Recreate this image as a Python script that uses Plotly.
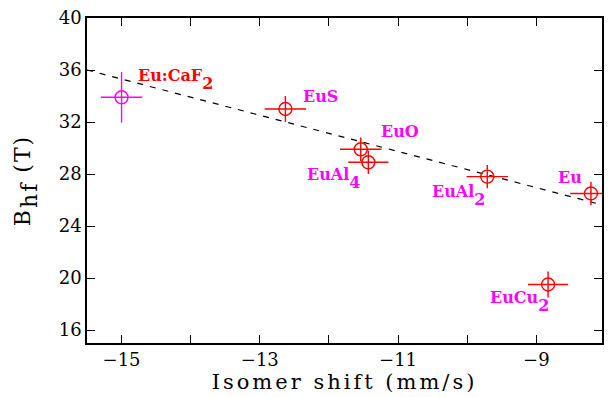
import plotly.graph_objects as go

# Data
names = ["Eu:CaF", "EuS", "EuO", "EuAl", "EuAl", "Eu", "EuCu"]
subs = ["2", "", "", "4", "2", "", "2"]
iso_shift = [-15.0, -12.63, -11.54, -11.43, -9.71, -8.21, -8.83]
bhf = [33.9, 33.0, 29.9, 28.9, 27.8, 26.5, 19.5]
iso_err = [0.30, 0.30, 0.30, 0.29, 0.30, 0.30, 0.29]
bhf_err = [1.95, 1.0, 0.9, 0.9, 0.9, 0.9, 1.0]

trend_x = [-15.5, -12.75, -10.03, -8.03]
trend_y = [36.0, 32.15, 28.36, 25.6]

x_tick_vals = [-15, -14, -13, -12, -11, -10, -9, -8]
x_tick_text = ["\u221215", "", "\u221213", "", "\u221211", "", "\u22129", ""]
y_tick_vals = [16, 20, 24, 28, 32, 36, 40]

RED = "#ff0000"
MAG = "#ff00ff"
point_colors = [MAG, RED, RED, RED, RED, RED, RED]
label_colors = [RED, MAG, MAG, MAG, MAG, MAG, MAG]
# label placement (pixel offsets, anchor)
label_style = [
    dict(xanchor="left", xshift=14, yshift=18),
    dict(xanchor="left", xshift=16, yshift=13),
    dict(xanchor="left", xshift=18, yshift=18),
    dict(xanchor="right", xshift=-6, yshift=-16),
    dict(xanchor="right", xshift=0, yshift=-19),
    dict(xanchor="right", xshift=-7, yshift=16),
    dict(xanchor="right", xshift=3, yshift=-17),
]

FONT = "DejaVu Serif"
LSIZE = 16


def label_text(n, s):
    t = "<b>" + n
    if s:
        t += "<span style='baseline-shift:-8px'>%s</span>" % s
    return t + "</b>"


fig = go.Figure()

fig.add_trace(go.Scatter(
    x=trend_x, y=trend_y, mode="lines",
    line=dict(color="black", width=1.2, dash="6px,7px"),
    hoverinfo="skip", showlegend=False,
))

for i in range(len(names)):
    c = point_colors[i]
    fig.add_trace(go.Scatter(
        x=[iso_shift[i]], y=[bhf[i]], mode="markers",
        marker=dict(symbol="circle-open", size=13, color=c, line=dict(width=1.4, color=c)),
        error_x=dict(type="data", array=[iso_err[i]], color=c, thickness=1.4, width=0),
        error_y=dict(type="data", array=[bhf_err[i]], color=c, thickness=1.4, width=0),
        showlegend=False, cliponaxis=False,
    ))
    fig.add_annotation(
        x=iso_shift[i], y=bhf[i], text=label_text(names[i], subs[i]),
        showarrow=False, yanchor="middle",
        font=dict(family=FONT, size=LSIZE, color=label_colors[i]),
        **label_style[i],
    )

axis_common = dict(
    showline=True, linecolor="black", linewidth=1.5, mirror="ticks",
    ticks="inside", ticklen=8, tickwidth=1.2, tickcolor="black",
    showgrid=False, zeroline=False,
    tickfont=dict(family=FONT, size=18, color="black"),
)

fig.update_xaxes(
    range=[-15.5, -8.05], tickmode="array", tickvals=x_tick_vals, ticktext=x_tick_text,
    title=dict(text="<span style='letter-spacing:3px'>Isomer shift (mm/s)</span>",
               font=dict(family=FONT, size=21, color="black"), standoff=4),
    **axis_common,
)
fig.update_yaxes(
    range=[15, 40], tickmode="array", tickvals=y_tick_vals,
    title=dict(text="<span style='letter-spacing:2px'>B<span style='baseline-shift:-7px'>hf</span> (T)</span>",
               font=dict(family=FONT, size=22, color="black"), standoff=22),
    **axis_common,
)

fig.update_layout(
    width=609, height=397,
    margin=dict(l=87, r=5, t=18, b=54),
    plot_bgcolor="white", paper_bgcolor="white",
)

fig.write_html("out.html")
